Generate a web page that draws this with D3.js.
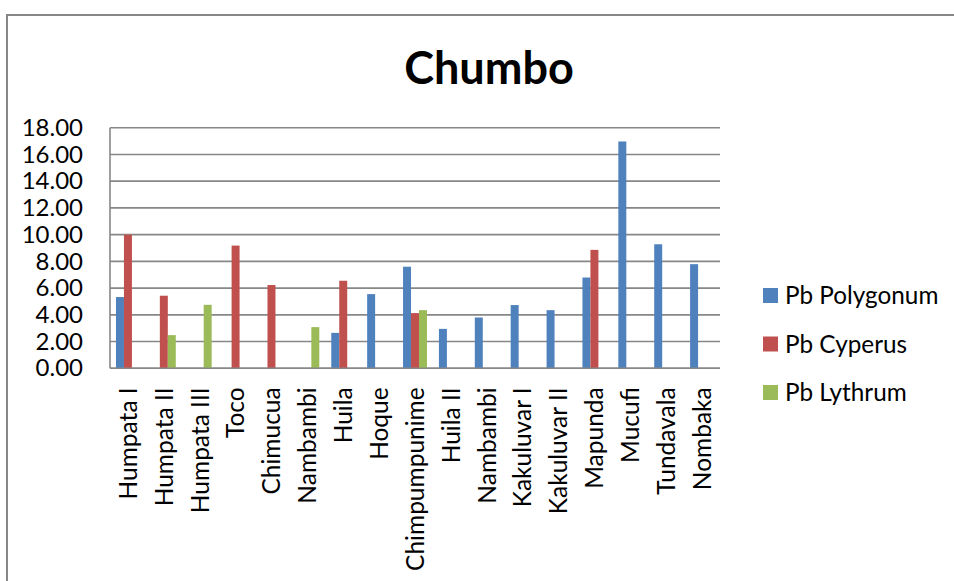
<!DOCTYPE html>
<html>
<head>
<meta charset="utf-8">
<script src="https://cdn.jsdelivr.net/npm/d3@7"></script>
<style>
  html, body { margin: 0; padding: 0; background: #fff; }
  svg { display: block; }
  text { font-family: Lato, "Open Sans", sans-serif; fill: #000; }
</style>
</head>
<body>
<svg id="chart" width="954" height="581"></svg>
<script>
// Lead (Pb) concentrations per site, three plant species
const categories = ["Humpata I", "Humpata II", "Humpata III", "Toco", "Chimucua", "Nambambi",
  "Huila", "Hoque", "Chimpumpunime", "Huila II", "Nambambi", "Kakuluvar I", "Kakuluvar II",
  "Mapunda", "Mucufi", "Tundavala", "Nombaka"];
const seriesNames = ["Pb Polygonum", "Pb Cyperus", "Pb Lythrum"];
const polygonum = [5.33, null, null, null, null, null, 2.65, 5.55, 7.6, 2.95, 3.8, 4.73, 4.35, 6.79, 16.97, 9.28, 7.79];
const cyperus   = [10.0, 5.43, null, 9.18, 6.23, null, 6.55, null, 4.13, null, null, null, null, 8.86, null, null, null];
const lythrum   = [null, 2.48, 4.75, null, null, 3.08, null, null, 4.35, null, null, null, null, null, null, null, null];
const yTicks = [0, 2, 4, 6, 8, 10, 12, 14, 16, 18];
const colors = ["#4F81BD", "#C0504D", "#9BBB59"];

const seriesValues = [polygonum, cyperus, lythrum];
const svg = d3.select("#chart");

// outer chart frame (runs past the right and bottom edges)
svg.append("rect")
  .attr("x", 7).attr("y", 15).attr("width", 1000).attr("height", 700)
  .attr("fill", "#fff").attr("stroke", "#878787").attr("stroke-width", 2);

const plot = { left: 110, right: 720, top: 127.7, bottom: 368.3 };

const x0 = d3.scaleBand().domain(d3.range(categories.length))
  .range([plot.left, plot.right]).padding(0);
const x1 = d3.scaleBand().domain(d3.range(seriesNames.length))
  .range([0, x0.bandwidth()]).paddingInner(0).paddingOuter(0.75);
const y = d3.scaleLinear().domain([0, 18]).range([plot.bottom, plot.top]);

// horizontal gridlines
svg.append("g").selectAll("line").data(yTicks).join("line")
  .attr("x1", plot.left).attr("x2", plot.right)
  .attr("y1", d => y(d)).attr("y2", d => y(d))
  .attr("stroke", "#878787").attr("stroke-width", 1.6);

// y axis labels
const yAxis = d3.axisLeft(y).tickValues(yTicks).tickFormat(d3.format(".2f")).tickSize(0).tickPadding(27);
svg.append("g").attr("transform", `translate(${plot.left},0)`).call(yAxis)
  .call(g => g.select(".domain").remove())
  .call(g => g.selectAll("text").attr("font-size", 24).attr("font-family", "Lato, sans-serif").attr("fill", "#000"));

// bars
const groups = svg.append("g").selectAll("g").data(seriesValues).join("g")
  .attr("fill", (d, i) => colors[i]);
groups.each(function(vals, si) {
  d3.select(this).selectAll("rect")
    .data(vals.map((v, ci) => ({ v, ci })).filter(d => d.v != null))
    .join("rect")
    .attr("x", d => x0(d.ci) + x1(si))
    .attr("width", x1.bandwidth())
    .attr("y", d => y(d.v))
    .attr("height", d => y(0) - y(d.v));
});

// axis lines
svg.append("line").attr("x1", plot.left).attr("x2", plot.left)
  .attr("y1", plot.top).attr("y2", plot.bottom)
  .attr("stroke", "#878787").attr("stroke-width", 1.6);
svg.append("line").attr("x1", plot.left).attr("x2", plot.right)
  .attr("y1", plot.bottom).attr("y2", plot.bottom)
  .attr("stroke", "#878787").attr("stroke-width", 1.6);

// rotated category labels
const xAxis = d3.axisBottom(x0).tickFormat(i => categories[i]).tickSize(0);
svg.append("g").attr("transform", `translate(0,${plot.bottom})`).call(xAxis)
  .call(g => g.select(".domain").remove())
  .call(g => g.selectAll("text")
    .attr("font-size", 24.5).attr("font-family", "Lato, sans-serif").attr("fill", "#000")
    .attr("text-anchor", "end")
    .attr("transform", "rotate(-90)")
    .attr("x", -19).attr("y", 0).attr("dy", "0.36em"));

// title
svg.append("text").attr("x", 489).attr("y", 84)
  .attr("text-anchor", "middle").attr("font-size", 45).attr("font-weight", "bold")
  .text("Chumbo");

// legend
const legend = svg.append("g").selectAll("g").data(seriesNames).join("g")
  .attr("transform", (d, i) => `translate(763,${288 + i * 48.5})`);
legend.append("rect").attr("width", 15).attr("height", 15).attr("fill", (d, i) => colors[i]);
legend.append("text").attr("x", 22).attr("y", 7.5).attr("dy", "0.36em")
  .attr("font-size", 24.3).text(d => d);
</script>
</body>
</html>
